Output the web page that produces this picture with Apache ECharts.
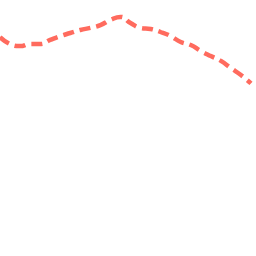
<!DOCTYPE html>
<html><head><meta charset="utf-8">
<script src="https://cdn.jsdelivr.net/npm/echarts@6/dist/echarts.min.js"></script>
<style>html,body{margin:0;padding:0;background:#fff}#c{width:256px;height:256px}</style>
</head><body><div id="c"></div>
<script>
var categories = ['1','2','3','4','5','6','7','8','9','10','11','12','13','14','15','16','17','18','19','20','21','22','23','24','25','26'];
var values = [85.5,82.8,82.0,82.8,82.8,84.4,85.9,87.1,88.3,89.1,90.2,92.2,93.4,91.0,89.1,88.7,87.5,85.9,83.6,82.4,80.1,78.1,76.2,73.4,70.7,67.4];
var chart = echarts.init(document.getElementById('c'), null, {renderer:'canvas'});
chart.setOption({
  animation:false,
  grid:{left:0,right:5,top:0,bottom:0},
  xAxis:{type:'category',data:categories,boundaryGap:false,show:false},
  yAxis:{type:'value',min:0,max:100,show:false},
  series:[{type:'line',data:values,smooth:true,symbol:'none',
    lineStyle:{color:'#ff6b5e',width:4.5,type:[11,6]}}]
});
</script></body></html>
